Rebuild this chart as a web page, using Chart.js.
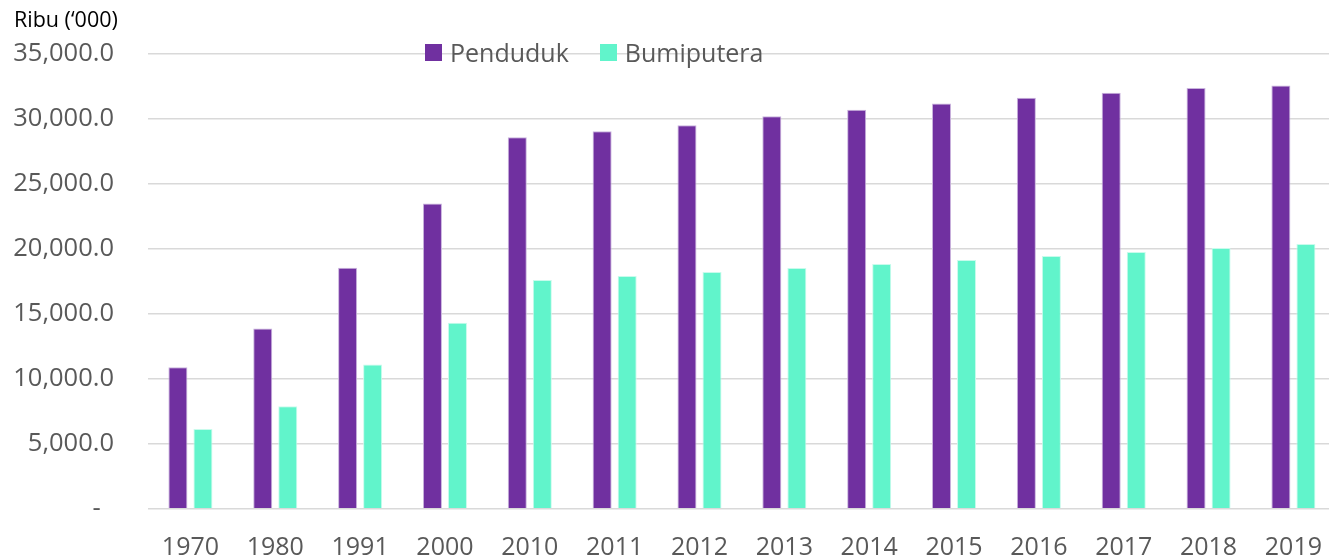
<!DOCTYPE html>
<html lang="ms">
<head>
  <meta charset="UTF-8">
  <title>Penduduk dan Bumiputera</title>
  <style>
    body { margin: 0; background: #fff; font-family: 'Open Sans', sans-serif; overflow: hidden; }
    .wrap { position: relative; width: 1329px; height: 558px; overflow: hidden; }
    .unit { position: absolute; left: 14px; top: 4px; font-size: 21.5px; color: #000; }
    .legend { position: absolute; left: 425px; top: 35px; display: flex; align-items: center; font-size: 25px; color: #595959; }
    .legend span.box { display: inline-block; width: 17px; height: 17px; margin-right: 8px; }
    .legend .item { display: flex; align-items: center; margin-right: 31px; }
  </style>
</head>
<body>
  <div class="wrap">
    <canvas id="grafik" width="1346" height="558"></canvas>
    <div class="unit">Ribu (‘000)</div>
    <div class="legend" id="legenda"></div>
  </div>
  <script src="https://cdn.jsdelivr.net/npm/chart.js"></script>
  <script>
    const tahun = ["1970", "1980", "1991", "2000", "2010", "2011", "2012", "2013", "2014", "2015", "2016", "2017", "2018", "2019"];
    const penduduk = [10881, 13880, 18547, 23495, 28589, 29062, 29510, 30214, 30709, 31186, 31634, 32023, 32385, 32582];
    const bumiputera = [6126, 7887, 11103, 14319, 17611, 17917, 18224, 18530, 18836, 19142, 19449, 19755, 20061, 20368];
    const warna = ["#7030A0", "#61F4CB"];
    const nama = ["Penduduk", "Bumiputera"];

    // legenda manual
    const leg = document.getElementById("legenda");
    nama.forEach((n, i) => {
      const d = document.createElement("div");
      d.className = "item";
      d.innerHTML = `<span class="box" style="background:${warna[i]}"></span>${n}`;
      leg.appendChild(d);
    });

    new Chart(document.getElementById("grafik").getContext("2d"), {
      type: "bar",
      data: {
        labels: tahun,
        datasets: [
          { label: nama[0], data: penduduk, backgroundColor: warna[0], borderColor: "#c9b3dd", borderWidth: 1, categoryPercentage: 0.59, barPercentage: 0.76 },
          { label: nama[1], data: bumiputera, backgroundColor: warna[1], borderColor: "#c8fbec", borderWidth: 1, categoryPercentage: 0.59, barPercentage: 0.76 }
        ]
      },
      options: {
        responsive: false,
        animation: false,
        layout: { padding: { top: 54, right: 0, left: 0, bottom: 0 } },
        plugins: { legend: { display: false }, tooltip: { enabled: false } },
        scales: {
          x: {
            grid: { display: false, drawTicks: false },
            border: { display: false },
            ticks: { color: "#595959", font: { family: "Open Sans", size: 25 }, padding: 24, maxRotation: 0 },
            afterFit: s => { s.height = 47; }
          },
          y: {
            min: 0,
            max: 35000,
            grid: { color: "#d9d9d9", lineWidth: 1.5, drawTicks: false },
            border: { display: false },
            ticks: {
              stepSize: 5000,
              color: "#595959",
              font: { family: "Open Sans", size: 25.5 },
              padding: 34,
              callback: v => v === 0 ? "-  " : v.toLocaleString("en-US", { minimumFractionDigits: 1, maximumFractionDigits: 1 })
            },
            afterFit: s => { s.width = 148; }
          }
        }
      }
    });
  </script>
</body>
</html>
